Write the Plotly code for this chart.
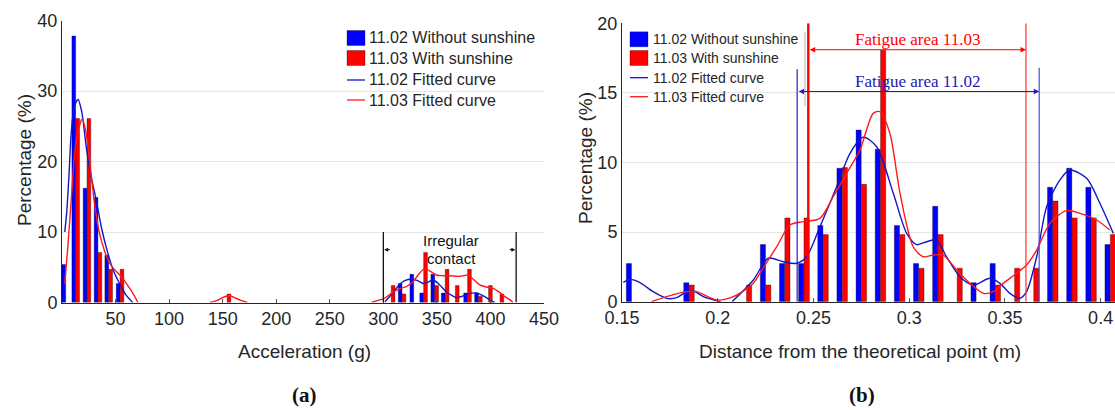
import plotly.graph_objects as go

# ---------------- (a) data ----------------
a_bins = [3.5, 12.8, 23.3, 33.6, 43.6, 54.2, 154.1, 307.3, 317.5, 328.4, 337.6,
          348.0, 357.7, 367.2, 378.6, 388.8, 398.2, 408.9]
a_blue = [5.4, 37.8, 16.2, 14.9, 6.7, 2.7, 0, 0, 2.7, 4.0, 1.35, 4.0, 1.35, 0,
          1.35, 1.35, 0, 0]
a_red = [0, 26.1, 26.1, 7.1, 4.7, 4.7, 1.2, 2.4, 1.2, 0, 7.1, 2.4, 4.7, 2.4,
         4.7, 0.9, 2.4, 1.2]

a_fit_blue_x = [2.6, 4.5, 6.5, 8.6, 11.5, 15.0, 18.5, 22.6, 27.0, 32.0, 37.0, 42.8,
                48.0, 53.7, 60.0, 66.0, None,
                301.4, 308, 315.4, 320, 326.4, 332, 337.2, 342, 346.5, 352, 359,
                364, 368.4, 374, 381, 386, 390, 395, 399.5, 404]
a_fit_blue_y = [10, 13, 18, 24, 27.8, 28.8, 27, 22.1, 18, 14.5, 10.5, 7, 4.5, 2.7,
                1, 0, None,
                0.1, 1.2, 2.6, 3.1, 3.3, 3.1, 2.7, 2.9, 3.2, 2.6, 1.5, 1.0, 0.7,
                0.9, 1.3, 1.35, 1.2, 0.8, 0.35, 0]
a_fit_red_x = [2.6, 5.5, 8.6, 13.3, 18.9, 22.0, 25.7, 30.0, 35.0, 40.0, 44.4, 50.0,
               55.3, 61.0, 66.2, 70.9, None,
               138, 145, 150, 155.9, 161, 167, 173, None,
               289, 295, 300, 305, 310.5, 316, 322, 328, 334, 339, 344, 349.7, 356,
               362, 370, 375, 379, 384, 390, 396, 402.6, 408, 413, 418, 421]
a_fit_red_y = [2.7, 8, 14.5, 23, 26, 24.5, 20.2, 14.5, 9.8, 7.2, 5.6, 4.5, 3.7, 2.5,
               1.3, 0, None,
               0, 0.3, 0.7, 1.0, 0.7, 0.3, 0, None,
               0, 0.3, 0.5, 1.0, 1.6, 2.0, 2.3, 3.0, 4.2, 4.8, 4.4, 3.9, 3.8, 3.8,
               3.7, 3.8, 3.9, 3.3, 2.5, 2.2, 2.0, 1.5, 0.9, 0.4, 0]

a_xticks = [50, 100, 150, 200, 250, 300, 350, 400, 450]
a_yticks = [0, 10, 20, 30, 40]

# ---------------- (b) data ----------------
b_bins = [0.155, 0.165, 0.175, 0.185, 0.195, 0.205, 0.215, 0.225, 0.235, 0.245,
          0.255, 0.265, 0.275, 0.285, 0.295, 0.305, 0.315, 0.325, 0.335, 0.345,
          0.355, 0.365, 0.375, 0.385, 0.395, 0.405]
b_blue = [2.74, 0, 0, 1.37, 0, 0, 0, 4.11, 2.74, 2.74, 5.48, 9.59, 12.33, 10.96,
          5.48, 2.74, 6.85, 0, 1.37, 2.74, 0, 0, 8.22, 9.59, 8.22, 4.11]
b_red = [0, 0, 0, 1.2, 0, 0, 1.2, 1.2, 6.02, 6.02, 4.82, 9.64, 8.43, 18.07, 4.82,
         2.41, 4.82, 2.41, 0, 1.2, 2.41, 2.41, 7.23, 6.02, 6.02, 4.82]

b_fit_blue_x = [0.1507, 0.1542, 0.1594, 0.1663, 0.1733, 0.1786, 0.1838, 0.1872,
                0.1925, 0.1995, 0.2015, None,
                0.2075, 0.2186, 0.2264, 0.2342, 0.2412, 0.2464, 0.2534, 0.2621,
                0.2691, 0.2760, 0.2830, 0.2917, 0.2987, 0.3039, 0.3091, 0.3143,
                0.3195, 0.3265, 0.3335, 0.3422, 0.3474, 0.3526, 0.3578, 0.3613,
                0.3666, 0.3718, 0.3787, 0.3839, 0.3927, 0.3996, 0.4066]
b_fit_blue_y = [1.39, 1.6, 1.37, 0.72, 0.24, 0.29, 0.72, 0.79, 0.36, 0.07, 0.0, None,
                0.0, 1.56, 3.12, 2.87, 2.76, 3.23, 5.39, 8.26, 10.66, 11.81, 11.13,
                7.79, 4.91, 4.1, 4.31, 4.43, 3.23, 1.8, 1.2, 1.68, 1.32, 0.6, 0.24,
                0.72, 3.23, 6.83, 8.74, 9.46, 8.86, 7.07, 4.91]
b_fit_red_x = [0.1655, 0.1733, 0.1838, 0.1890, 0.1995, 0.2081, 0.2186, 0.2220,
               0.2308, 0.2377, 0.2447, 0.2534, 0.2603, 0.2673, 0.2743, 0.2812,
               0.2847, 0.2899, 0.2952, 0.3021, 0.3073, 0.3126, 0.3178, 0.3248,
               0.3317, 0.3387, 0.3439, 0.3491, 0.3561, 0.3613, 0.3666, 0.3735,
               0.3822, 0.3892, 0.3979, 0.4048]
b_fit_red_y = [0, 0.36, 0.72, 0.72, 0.12, 0.36, 1.32, 2.04, 3.95, 5.51, 5.75, 5.99,
               7.54, 9.22, 10.9, 13.53, 13.65, 12.1, 7.8, 3.95, 3.23, 3.35, 3.35,
               2.28, 1.32, 0.6, 0.72, 1.32, 2.04, 2.64, 3.71, 5.63, 6.54, 6.35,
               5.87, 5.15]

b_xticks = [0.15, 0.2, 0.25, 0.3, 0.35, 0.4]
b_xticktext = ["0.15", "0.2", "0.25", "0.3", "0.35", "0.4"]
b_yticks = [0, 5, 10, 15, 20]

fatigue_0302 = [0.2415, 0.3679]
fatigue_0303 = [0.2473, 0.3610]
irregular = [300, 424]

legend_labels = ["11.02 Without sunshine", "11.03 With sunshine",
                 "11.02 Fitted curve", "11.03 Fitted curve"]

# ---------------- styling ----------------
W, H = 1115, 410
BLUE = "#0000ff"
RED = "#ff0000"
FIT_BLUE = "#1414c8"
FIT_RED = "#ff1a1a"
TXT = "#262626"
SANS = "Liberation Sans, Arial, sans-serif"
SERIF = "Liberation Serif, Times New Roman, serif"


def px(x):
    return x / W


def py(y):
    return 1 - y / H


fig = go.Figure()
edge = dict(width=0.6, color="rgba(0,0,0,0.55)")


def bars(bins, vals, off, width, color, xa, ya):
    xs = [b + off for b, v in zip(bins, vals) if v > 0]
    ys = [v for v in vals if v > 0]
    fig.add_trace(go.Bar(x=xs, y=ys, width=width, marker_color=color,
                         marker_line=edge, xaxis=xa, yaxis=ya, showlegend=False))


bars(a_bins, a_blue, -1.8, 3.5, BLUE, "x", "y")
bars(a_bins, a_red, 1.8, 3.5, RED, "x", "y")
bars(b_bins, b_blue, -0.0014, 0.0027, BLUE, "x2", "y2")
bars(b_bins, b_red, 0.0014, 0.0027, RED, "x2", "y2")

for xs, ys, c, xa, ya in [(a_fit_blue_x, a_fit_blue_y, FIT_BLUE, "x", "y"),
                          (a_fit_red_x, a_fit_red_y, FIT_RED, "x", "y"),
                          (b_fit_blue_x, b_fit_blue_y, FIT_BLUE, "x2", "y2"),
                          (b_fit_red_x, b_fit_red_y, FIT_RED, "x2", "y2")]:
    fig.add_trace(go.Scatter(x=xs, y=ys, mode="lines",
                             line=dict(color=c, width=1.4, shape="spline", smoothing=0.8),
                             connectgaps=False, xaxis=xa, yaxis=ya, showlegend=False))

axis_common = dict(showline=True, linecolor=TXT, linewidth=1, zeroline=False,
                   automargin=False,
                   tickfont=dict(family=SANS, size=18, color=TXT))
fig.update_layout(
    width=W, height=H, margin=dict(l=0, r=0, t=0, b=0, autoexpand=False),
    paper_bgcolor="white", plot_bgcolor="white", barmode="overlay",
    showlegend=False,
    xaxis=dict(domain=[px(62), px(544)], range=[0, 450], tickvals=a_xticks,
               ticks="inside", ticklen=4, tickcolor="#555", showgrid=False,
               anchor="y", **axis_common),
    yaxis=dict(domain=[py(302.5), py(20.5)], range=[0, 40], tickvals=a_yticks,
               showgrid=True, gridcolor="#e6e6e6", anchor="x", ticks="",
               **axis_common),
    xaxis2=dict(domain=[px(622), 1.0], range=[0.15, 0.4075], tickvals=b_xticks,
                ticktext=b_xticktext, ticks="inside", ticklen=4, tickcolor="#555",
                showgrid=False, anchor="y2", **axis_common),
    yaxis2=dict(domain=[py(301.7), py(23.3)], range=[0, 20], tickvals=b_yticks,
                showgrid=True, gridcolor="#e6e6e6", anchor="x2", ticks="",
                **axis_common),
)

shapes = []
ann = []

# legend boxes (white, over gridlines)
shapes.append(dict(type="rect", xref="paper", yref="paper", x0=px(342), x1=px(545),
                   y0=py(110), y1=py(26), fillcolor="white", line=dict(width=0),
                   layer="between"))
shapes.append(dict(type="rect", xref="paper", yref="paper", x0=px(624), x1=px(805),
                   y0=py(106), y1=py(27), fillcolor="white", line=dict(width=0),
                   layer="between"))
shapes.append(dict(type="line", xref="paper", yref="paper", x0=px(805), x1=px(805),
                   y0=py(106), y1=py(32), line=dict(color="#b0b0b0", width=1)))


def text(x, y, s, size, color, family=SANS, angle=0, xanchor="center"):
    ann.append(dict(xref="paper", yref="paper", x=px(x), y=py(y), text=s,
                    xanchor=xanchor, yanchor="middle", showarrow=False,
                    textangle=angle, font=dict(family=family, size=size, color=color)))


def legend(x0, sq_w, rows, text_x, fsize):
    cols = [BLUE, RED, FIT_BLUE, FIT_RED]
    for i, (yc, lab) in enumerate(zip(rows, legend_labels)):
        if i < 2:
            shapes.append(dict(type="rect", xref="paper", yref="paper",
                               x0=px(x0), x1=px(x0 + sq_w), y0=py(yc + 7.5),
                               y1=py(yc - 7.5), fillcolor=cols[i],
                               line=dict(width=0.6, color="rgba(0,0,0,0.5)")))
        else:
            shapes.append(dict(type="line", xref="paper", yref="paper",
                               x0=px(x0), x1=px(x0 + sq_w), y0=py(yc), y1=py(yc),
                               line=dict(color=cols[i], width=1.3)))
        text(text_x, yc, lab, fsize, TXT, xanchor="left")


legend(347, 18, [38, 58, 80, 100], 367, 16)
legend(630, 18, [39.3, 58, 77.7, 96.7], 651, 14)

# irregular contact marks (a)
for xv in irregular:
    shapes.append(dict(type="line", xref="x", yref="y", x0=xv, x1=xv, y0=0, y1=10,
                       line=dict(color="#111", width=1.3)))
ann.append(dict(xref="x", yref="y", x=300.8, y=7.5, ax=307.5, ay=7.5, axref="x",
                ayref="y", showarrow=True, arrowhead=2, arrowsize=0.8, arrowwidth=1,
                arrowcolor="#111", text=""))
ann.append(dict(xref="x", yref="y", x=423.2, y=7.5, ax=416.5, ay=7.5, axref="x",
                ayref="y", showarrow=True, arrowhead=2, arrowsize=0.8, arrowwidth=1,
                arrowcolor="#111", text=""))
ann.append(dict(xref="x", yref="y", x=363.5, y=8.75, showarrow=False, text="Irregular",
                xanchor="center", yanchor="middle",
                font=dict(family=SANS, size=15, color="#111")))
ann.append(dict(xref="x", yref="y", x=363.5, y=6.2, showarrow=False, text="contact",
                xanchor="center", yanchor="middle",
                font=dict(family=SANS, size=15, color="#111")))

# fatigue areas (b)
shapes.append(dict(type="line", xref="x2", yref="y2", x0=fatigue_0302[0],
                   x1=fatigue_0302[0], y0=0, y1=16.7, layer="above",
                   line=dict(color="#2020d0", width=1.2)))
shapes.append(dict(type="line", xref="x2", yref="y2", x0=fatigue_0302[1],
                   x1=fatigue_0302[1], y0=0, y1=16.8, layer="above",
                   line=dict(color="#4a4ae0", width=1.2)))
shapes.append(dict(type="line", xref="x2", yref="y2", x0=fatigue_0303[0],
                   x1=fatigue_0303[0], y0=0, y1=20, layer="above",
                   line=dict(color=RED, width=2.4)))
shapes.append(dict(type="line", xref="x2", yref="y2", x0=fatigue_0303[1],
                   x1=fatigue_0303[1], y0=0, y1=20, layer="above",
                   line=dict(color="#ff3030", width=1.2)))
ann.append(dict(xref="x2", yref="y2", x=fatigue_0303[1], y=18.1, ax=fatigue_0303[0],
                ay=18.1, axref="x2", ayref="y2", showarrow=True, arrowhead=2,
                startarrowhead=2, arrowside="end+start", arrowsize=0.9, arrowwidth=1.2,
                arrowcolor=RED, text=""))
ann.append(dict(xref="x2", yref="y2", x=fatigue_0302[1], y=15.1, ax=fatigue_0302[0],
                ay=15.1, axref="x2", ayref="y2", showarrow=True, arrowhead=2,
                startarrowhead=2, arrowside="end+start", arrowsize=0.9, arrowwidth=1.2,
                arrowcolor="#1a1ad0", text=""))
ann.append(dict(xref="x2", yref="y2", x=0.3046, y=18.85, showarrow=False,
                xanchor="center", yanchor="middle",
                text="Fatigue area 11.03", font=dict(family=SERIF, size=17, color=RED)))
ann.append(dict(xref="x2", yref="y2", x=0.3046, y=15.85, showarrow=False,
                xanchor="center", yanchor="middle",
                text="Fatigue area 11.02",
                font=dict(family=SERIF, size=17, color="#1a1ab4")))

# axis titles and captions
text(24, 160, "Percentage (%)", 19, TXT, angle=-90)
text(585, 158, "Percentage (%)", 19, TXT, angle=-90)
text(304, 351, "Acceleration (g)", 19, TXT)
text(860, 351, "Distance from the theoretical point (m)", 19, TXT)
text(304, 395, "<b>(a)</b>", 21, "#111", family=SERIF)
text(862, 395, "<b>(b)</b>", 21, "#111", family=SERIF)

fig.update_layout(shapes=shapes, annotations=ann)
fig.write_html("out.html")
